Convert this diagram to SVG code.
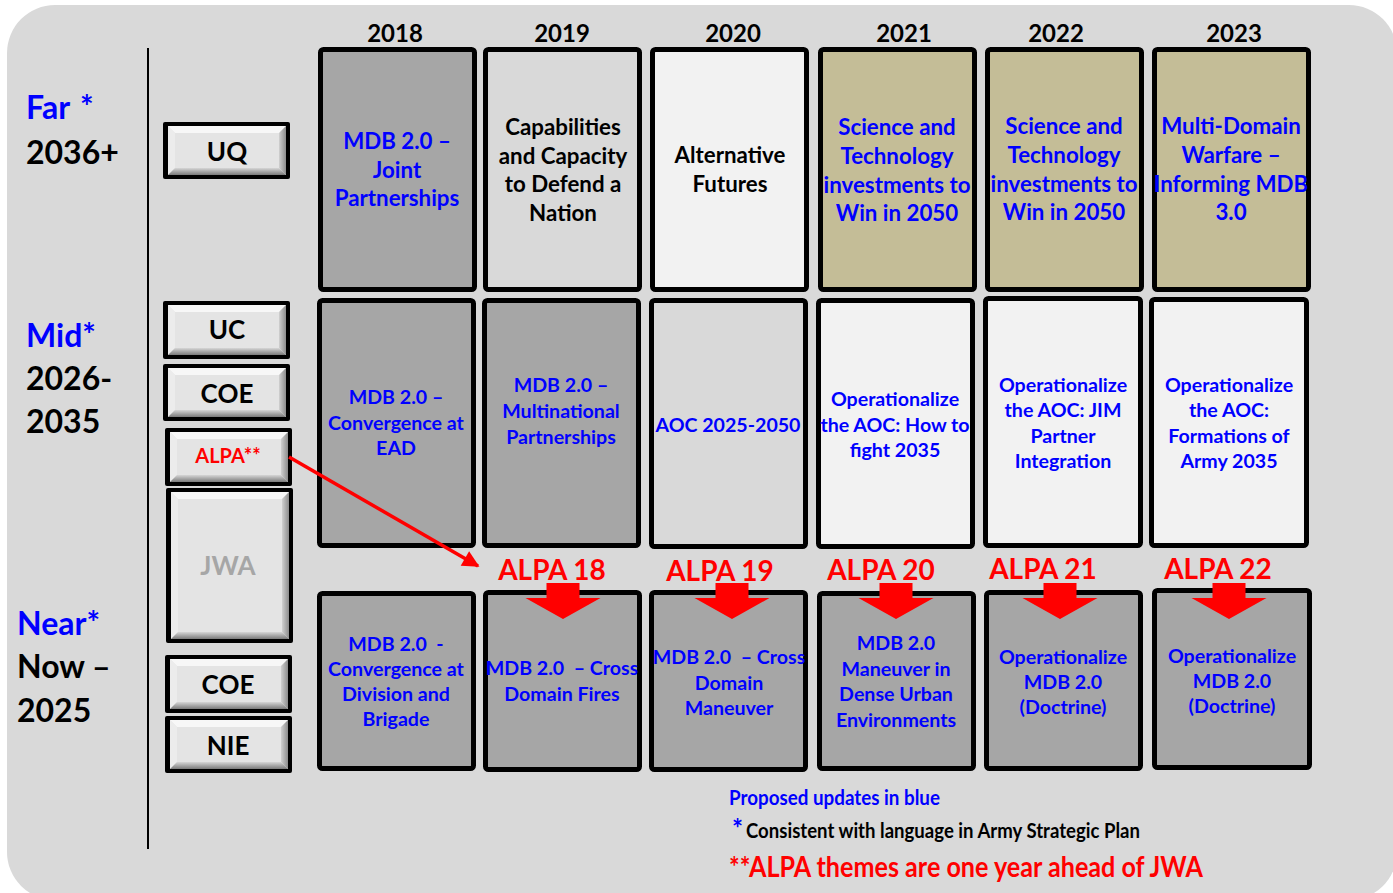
<svg xmlns="http://www.w3.org/2000/svg" width="1393" height="893" viewBox="0 0 1393 893">
  <style>
    text { font-family: Lato, "Open Sans", "Liberation Sans", sans-serif; font-weight: bold; text-anchor: middle; }
    .blue { fill: #0000ff; }
    .red { fill: #ff0000; }
    .blk { fill: #000000; }
    .yr { font-size: 24px; fill: #000; }
    .t1 { font-size: 22.3px; }
    .t2 { font-size: 19.6px; }
    .t3 { font-size: 19.6px; }
    .alpa { font-size: 28px; fill: #ff0000; }
    .side { text-anchor: start; font-size: 32px; }
    .btn { font-size: 26px; fill: #000; }
    .box { stroke: #000; stroke-width: 5; }
    .dark { fill: #a6a6a6; }
    .mid { fill: #d9d9d9; }
    .light { fill: #f2f2f2; }
    .tan { fill: #c4bd97; }
    .frame { fill: #000; }
    .face { fill: #e4e4e4; }
    .bevT { fill: #f7f7f7; }
    .bevL { fill: #ececec; }
    .bevB { fill: url(#gB); }
    .bevR { fill: url(#gR); }
    .foot { text-anchor: start; }
  </style>
  <defs>
    <linearGradient id="gB" x1="0" y1="0" x2="0" y2="1">
      <stop offset="0" stop-color="#d6d6d6"/>
      <stop offset="1" stop-color="#7a7a7a"/>
    </linearGradient>
    <linearGradient id="gR" x1="0" y1="0" x2="1" y2="0">
      <stop offset="0" stop-color="#d0d0d0"/>
      <stop offset="1" stop-color="#8c8c8c"/>
    </linearGradient>
    <marker id="ah" viewBox="0 0 10 10" refX="9" refY="5" markerWidth="5.5" markerHeight="4.8" orient="auto" markerUnits="strokeWidth">
      <path d="M0,0 L10,5 L0,10 z" fill="#ff0000"/>
    </marker>
  </defs>

  <!-- panel background -->
  <rect x="0" y="0" width="1393" height="893" fill="#ffffff"/>
  <rect x="7" y="5" width="1390" height="895" rx="48" fill="#d9d9d9"/>
  <line x1="148" y1="48" x2="148" y2="849" stroke="#000" stroke-width="2"/>

  <!-- horizon labels -->
  <g id="horizon-far">
    <text class="side blue" x="26" y="119">Far<tspan x="80">*</tspan></text>
    <text class="side blk" x="26" y="164" font-size="30">2036+</text>
  </g>
  <g id="horizon-mid">
    <text class="side blue" x="26" y="347">Mid*</text>
    <text class="side blk" x="26" y="390">2026-</text>
    <text class="side blk" x="26" y="433">2035</text>
  </g>
  <g id="horizon-near">
    <text class="side blue" x="17" y="635">Near*</text>
    <text class="side blk" x="17" y="678">Now –</text>
    <text class="side blk" x="17" y="722">2025</text>
  </g>

  <!-- beveled buttons -->
  <g id="btn-uq">
    <rect class="frame" x="163" y="122" width="127" height="57" rx="2"/>
    <rect class="face" x="168" y="126" width="118" height="49"/>
    <polygon class="bevT" points="168,126 286,126 279,133 175,133"/>
    <polygon class="bevL" points="168,126 175,133 175,168 168,175"/>
    <polygon class="bevR" points="286,126 286,175 279,168 279,133"/>
    <polygon class="bevB" points="168,175 175,168 279,168 286,175"/>
    <text class="btn" x="227" y="161">UQ</text>
  </g>
  <g id="btn-uc">
    <rect class="frame" x="163" y="301" width="127" height="58" rx="2"/>
    <rect class="face" x="168" y="305" width="118" height="50"/>
    <polygon class="bevT" points="168,305 286,305 279,312 175,312"/>
    <polygon class="bevL" points="168,305 175,312 175,348 168,355"/>
    <polygon class="bevR" points="286,305 286,355 279,348 279,312"/>
    <polygon class="bevB" points="168,355 175,348 279,348 286,355"/>
    <text class="btn" x="227" y="339">UC</text>
  </g>
  <g id="btn-coe-mid">
    <rect class="frame" x="163" y="364" width="127" height="57" rx="2"/>
    <rect class="face" x="168" y="368" width="118" height="49"/>
    <polygon class="bevT" points="168,368 286,368 279,375 175,375"/>
    <polygon class="bevL" points="168,368 175,375 175,410 168,417"/>
    <polygon class="bevR" points="286,368 286,417 279,410 279,375"/>
    <polygon class="bevB" points="168,417 175,410 279,410 286,417"/>
    <text class="btn" x="227" y="403">COE</text>
  </g>
  <g id="btn-alpa">
    <rect class="frame" x="165" y="428" width="127" height="58" rx="2"/>
    <rect class="face" x="170" y="432" width="118" height="50"/>
    <polygon class="bevT" points="170,432 288,432 281,439 177,439"/>
    <polygon class="bevL" points="170,432 177,439 177,475 170,482"/>
    <polygon class="bevR" points="288,432 288,482 281,475 281,439"/>
    <polygon class="bevB" points="170,482 177,475 281,475 288,482"/>
    <text class="red" x="228" y="463" font-size="20">ALPA**</text>
  </g>
  <g id="btn-jwa">
    <rect class="frame" x="166" y="488" width="127" height="155" rx="2"/>
    <rect class="face" x="171" y="492" width="118" height="147"/>
    <polygon class="bevT" points="171,492 289,492 282,499 178,499"/>
    <polygon class="bevL" points="171,492 178,499 178,632 171,639"/>
    <polygon class="bevR" points="289,492 289,639 282,632 282,499"/>
    <polygon class="bevB" points="171,639 178,632 282,632 289,639"/>
    <text x="228" y="575" font-size="26" fill="#a6a6a6">JWA</text>
  </g>
  <g id="btn-coe-near">
    <rect class="frame" x="165" y="655" width="127" height="58" rx="2"/>
    <rect class="face" x="170" y="659" width="118" height="50"/>
    <polygon class="bevT" points="170,659 288,659 281,666 177,666"/>
    <polygon class="bevL" points="170,659 177,666 177,702 170,709"/>
    <polygon class="bevR" points="288,659 288,709 281,702 281,666"/>
    <polygon class="bevB" points="170,709 177,702 281,702 288,709"/>
    <text class="btn" x="228" y="694">COE</text>
  </g>
  <g id="btn-nie">
    <rect class="frame" x="165" y="716" width="127" height="57" rx="2"/>
    <rect class="face" x="170" y="720" width="118" height="49"/>
    <polygon class="bevT" points="170,720 288,720 281,727 177,727"/>
    <polygon class="bevL" points="170,720 177,727 177,762 170,769"/>
    <polygon class="bevR" points="288,720 288,769 281,762 281,727"/>
    <polygon class="bevB" points="170,769 177,762 281,762 288,769"/>
    <text class="btn" x="228" y="755">NIE</text>
  </g>

  <!-- year headers -->
  <g id="years">
    <text class="yr" x="395" y="42">2018</text>
    <text class="yr" x="562" y="42">2019</text>
    <text class="yr" x="733" y="42">2020</text>
    <text class="yr" x="904" y="42">2021</text>
    <text class="yr" x="1056" y="42">2022</text>
    <text class="yr" x="1234" y="42">2023</text>
  </g>

  <!-- far row -->
  <g id="far-2018">
    <rect class="box dark" x="320.5" y="49.5" width="154" height="240" rx="3"/>
    <text class="t1 blue" x="397" y="149">MDB 2.0 –</text>
    <text class="t1 blue" x="397" y="178">Joint</text>
    <text class="t1 blue" x="397" y="206">Partnerships</text>
  </g>
  <g id="far-2019">
    <rect class="box mid" x="485.5" y="49.5" width="154" height="240" rx="3"/>
    <text class="t1 blk" x="563" y="135">Capabilities</text>
    <text class="t1 blk" x="563" y="164">and Capacity</text>
    <text class="t1 blk" x="563" y="192">to Defend a</text>
    <text class="t1 blk" x="563" y="221">Nation</text>
  </g>
  <g id="far-2020">
    <rect class="box light" x="652.5" y="49.5" width="154" height="240" rx="3"/>
    <text class="t1 blk" x="730" y="163">Alternative</text>
    <text class="t1 blk" x="730" y="192">Futures</text>
  </g>
  <g id="far-2021">
    <rect class="box tan" x="820.5" y="49.5" width="154" height="240" rx="3"/>
    <text class="t1 blue" x="897" y="135">Science and</text>
    <text class="t1 blue" x="897" y="164">Technology</text>
    <text class="t1 blue" x="897" y="193">investments to</text>
    <text class="t1 blue" x="897" y="221">Win in 2050</text>
  </g>
  <g id="far-2022">
    <rect class="box tan" x="987.5" y="49.5" width="154" height="240" rx="3"/>
    <text class="t1 blue" x="1064" y="134">Science and</text>
    <text class="t1 blue" x="1064" y="163">Technology</text>
    <text class="t1 blue" x="1064" y="192">investments to</text>
    <text class="t1 blue" x="1064" y="220">Win in 2050</text>
  </g>
  <g id="far-2023">
    <rect class="box tan" x="1154.5" y="49.5" width="154" height="240" rx="3"/>
    <text class="t1 blue" x="1231" y="134">Multi-Domain</text>
    <text class="t1 blue" x="1231" y="163">Warfare –</text>
    <text class="t1 blue" x="1231" y="192">Informing MDB</text>
    <text class="t1 blue" x="1231" y="220">3.0</text>
  </g>

  <!-- mid row -->
  <g id="mid-2018">
    <rect class="box dark" x="319.5" y="300.5" width="154" height="245" rx="3"/>
    <text class="t2 blue" x="396" y="404">MDB 2.0 –</text>
    <text class="t2 blue" x="396" y="430">Convergence at</text>
    <text class="t2 blue" x="396" y="455">EAD</text>
  </g>
  <g id="mid-2019">
    <rect class="box dark" x="484.5" y="300.5" width="154" height="245" rx="3"/>
    <text class="t2 blue" x="561" y="392">MDB 2.0 –</text>
    <text class="t2 blue" x="561" y="418">Multinational</text>
    <text class="t2 blue" x="561" y="444">Partnerships</text>
  </g>
  <g id="mid-2020">
    <rect class="box mid" x="651.5" y="300.5" width="154" height="246" rx="3"/>
    <text class="t2 blue" x="728" y="432">AOC 2025-2050</text>
  </g>
  <g id="mid-2021">
    <rect class="box light" x="818.5" y="300.5" width="154" height="246" rx="3"/>
    <text class="t2 blue" x="895" y="406">Operationalize</text>
    <text class="t2 blue" x="895" y="432">the AOC: How to</text>
    <text class="t2 blue" x="895" y="457">fight 2035</text>
  </g>
  <g id="mid-2022">
    <rect class="box light" x="985.5" y="298.5" width="155" height="247" rx="3"/>
    <text class="t2 blue" x="1063" y="392">Operationalize</text>
    <text class="t2 blue" x="1063" y="417">the AOC: JIM</text>
    <text class="t2 blue" x="1063" y="443">Partner</text>
    <text class="t2 blue" x="1063" y="468">Integration</text>
  </g>
  <g id="mid-2023">
    <rect class="box light" x="1151.5" y="299.5" width="155" height="246" rx="3"/>
    <text class="t2 blue" x="1229" y="392">Operationalize</text>
    <text class="t2 blue" x="1229" y="417">the AOC:</text>
    <text class="t2 blue" x="1229" y="443">Formations of</text>
    <text class="t2 blue" x="1229" y="468">Army 2035</text>
  </g>

  <!-- near row -->
  <g id="near-2018">
    <rect class="box dark" x="319.5" y="593.5" width="154" height="175" rx="3"/>
    <text class="t3 blue" x="396" y="651" xml:space="preserve">MDB 2.0  -</text>
    <text class="t3 blue" x="396" y="676">Convergence at</text>
    <text class="t3 blue" x="396" y="701">Division and</text>
    <text class="t3 blue" x="396" y="726">Brigade</text>
  </g>
  <g id="near-2019">
    <rect class="box dark" x="485.5" y="592.5" width="154" height="177" rx="3"/>
    <text class="t3 blue" x="562" y="675" xml:space="preserve">MDB 2.0  – Cross</text>
    <text class="t3 blue" x="562" y="701">Domain Fires</text>
  </g>
  <g id="near-2020">
    <rect class="box dark" x="651.5" y="592.5" width="154" height="177" rx="3"/>
    <text class="t3 blue" x="729" y="664" xml:space="preserve">MDB 2.0  – Cross</text>
    <text class="t3 blue" x="729" y="690">Domain</text>
    <text class="t3 blue" x="729" y="715">Maneuver</text>
  </g>
  <g id="near-2021">
    <rect class="box dark" x="819.5" y="593.5" width="154" height="175" rx="3"/>
    <text class="t3 blue" x="896" y="650">MDB 2.0</text>
    <text class="t3 blue" x="896" y="676">Maneuver in</text>
    <text class="t3 blue" x="896" y="701">Dense Urban</text>
    <text class="t3 blue" x="896" y="727">Environments</text>
  </g>
  <g id="near-2022">
    <rect class="box dark" x="986.5" y="592.5" width="154" height="176" rx="3"/>
    <text class="t3 blue" x="1063" y="664">Operationalize</text>
    <text class="t3 blue" x="1063" y="689">MDB 2.0</text>
    <text class="t3 blue" x="1063" y="714">(Doctrine)</text>
  </g>
  <g id="near-2023">
    <rect class="box dark" x="1154.5" y="590.5" width="155" height="177" rx="3"/>
    <text class="t3 blue" x="1232" y="663">Operationalize</text>
    <text class="t3 blue" x="1232" y="688">MDB 2.0</text>
    <text class="t3 blue" x="1232" y="713">(Doctrine)</text>
  </g>

  <!-- ALPA year labels -->
  <g id="alpa-labels">
    <text class="alpa" x="552" y="580">ALPA 18</text>
    <text class="alpa" x="720" y="581">ALPA 19</text>
    <text class="alpa" x="881" y="580">ALPA 20</text>
    <text class="alpa" x="1043" y="579">ALPA 21</text>
    <text class="alpa" x="1218" y="579">ALPA 22</text>
  </g>

  <!-- connectors -->
  <g id="connectors" fill="#ff0000">
    <line x1="289" y1="457" x2="478" y2="566" stroke="#ff0000" stroke-width="3.5" marker-end="url(#ah)"/>
    <polygon points="546.5,583 579.5,583 579.5,598 600.5,598 563,619 525.5,598 546.5,598"/>
    <polygon points="715.5,583 748.5,583 748.5,598 769.5,598 732,619 694.5,598 715.5,598"/>
    <polygon points="879.5,583 912.5,583 912.5,598 933.5,598 896,619 858.5,598 879.5,598"/>
    <polygon points="1043.5,583 1076.5,583 1076.5,598 1097.5,598 1060,619 1022.5,598 1043.5,598"/>
    <polygon points="1212.5,583 1245.5,583 1245.5,598 1266.5,598 1229,619 1191.5,598 1212.5,598"/>
  </g>

  <!-- notes -->
  <g id="notes">
    <text class="foot blue" x="729" y="805" font-size="20" textLength="211" lengthAdjust="spacingAndGlyphs">Proposed updates in blue</text>
    <text class="foot" x="732" y="838" font-size="26" fill="#0000ff">*</text>
    <text class="foot" x="746" y="838" font-size="20" fill="#000" textLength="394" lengthAdjust="spacingAndGlyphs">Consistent with language in Army Strategic Plan</text>
    <text class="foot red" x="729" y="877" font-size="28" textLength="474" lengthAdjust="spacingAndGlyphs">**ALPA themes are one year ahead of JWA</text>
  </g>
</svg>
